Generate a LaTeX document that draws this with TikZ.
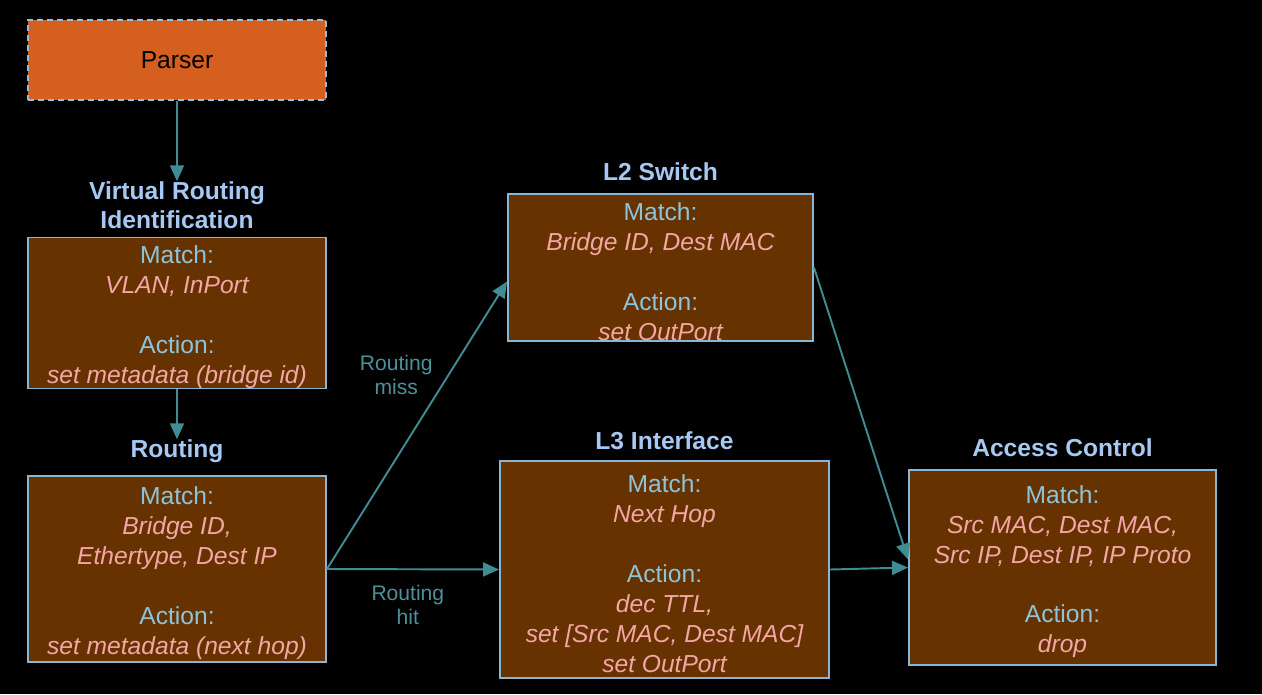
\documentclass[tikz,border=0pt]{standalone}
\usepackage{fontspec}
\setmainfont{Liberation Sans}
\usepackage{xcolor}
\usetikzlibrary{positioning, arrows.meta}

\definecolor{parserfill}{HTML}{D45F1F}
\definecolor{tablefill}{HTML}{663300}
\definecolor{tableedge}{HTML}{8AB6D6}
\definecolor{titleblue}{HTML}{A6C8F2}
\definecolor{keyblue}{HTML}{8EC3DA}
\definecolor{valpink}{HTML}{F4A6A6}
\definecolor{flowteal}{HTML}{3F8C93}
\definecolor{labelteal}{HTML}{4C9199}

\newcommand{\kw}[1]{\textcolor{keyblue}{\rule{0pt}{15pt}#1}}
\newcommand{\vl}[1]{\textcolor{valpink}{\itshape #1}}

\begin{document}
\begin{tikzpicture}[
node distance=0.24cm,
table/.style={rectangle, draw=tableedge, line width=1.1pt, fill=tablefill, align=center, inner sep=0pt, font=\fontsize{14}{17}\selectfont},
title/.style={align=center, inner sep=0pt, text=titleblue, font=\fontsize{14}{16.5}\selectfont\bfseries},
flow/.style={-{Triangle[length=0.32cm,width=0.28cm]}, draw=flowteal, fill=flowteal, line width=1.1pt},
hint/.style={align=center, inner sep=0pt, text=labelteal, font=\fontsize{12}{13.6}\selectfont}
]

% Fondo
\fill[black] (0,0) rectangle (25.24,-13.88);
\useasboundingbox (0,0) rectangle (25.24,-13.88);

% Parser
\node[rectangle, draw=tableedge!90, dash pattern=on 3.4pt off 2.3pt, line width=1.1pt, fill=parserfill,
      minimum width=5.96cm, minimum height=1.6cm, font=\fontsize{14}{17}\selectfont] (parser) at (3.54,-1.2) {Parser};

% Tablas de la izquierda
\node[table, minimum width=5.96cm, minimum height=2.96cm] (vri) at (3.54,-6.26) {
\kw{Match:} \\ \vl{VLAN, InPort} \\ \mbox{} \\
\kw{Action:} \\ \vl{set metadata (bridge id)}
};
\node[title, above=0.15cm of vri] (vri_title) {Virtual Routing \\ Identification};

\node[table, minimum width=5.96cm, minimum height=3.72cm] (routing) at (3.54,-11.38) {
\kw{Match:} \\ \vl{Bridge ID,} \\ \vl{Ethertype, Dest IP} \\ \mbox{} \\
\kw{Action:} \\ \vl{set metadata (next hop)}
};
\node[title, above=of routing] (routing_title) {Routing};

% Tablas del centro
\node[table, minimum width=6.1cm, minimum height=2.94cm] (l2) at (13.21,-5.35) {
\kw{Match:} \\ \vl{Bridge ID, Dest MAC} \\ \mbox{} \\
\kw{Action:} \\ \vl{set OutPort}
};
\node[title, above=of l2] (l2_title) {L2 Switch};

\node[table, minimum width=6.58cm, minimum height=4.34cm] (l3) at (13.29,-11.39) {
\kw{Match:} \\ \vl{Next Hop} \\ \mbox{} \\
\kw{Action:} \\ \vl{dec TTL,} \\ \vl{set [Src MAC, Dest MAC]} \\ \vl{set OutPort}
};
\node[title, above=0.19cm of l3] (l3_title) {L3 Interface};

% Tabla de la derecha
\node[table, minimum width=6.14cm, minimum height=3.9cm] (acl) at (21.25,-11.35) {
\kw{Match:} \\ \vl{Src MAC, Dest MAC,} \\ \vl{Src IP, Dest IP, IP Proto} \\ \mbox{} \\
\kw{Action:} \\ \vl{drop}
};
\node[title, above=of acl] (acl_title) {Access Control};

% Flechas
\draw[flow] (parser) -- (vri_title);
\draw[flow] (vri) -- (routing_title);

\draw[flow] (routing.east) -- ([yshift=-0.28cm]l2.west)
  node[hint, pos=0.675, left=0.3cm] (miss) {Routing \\ miss};
\draw[flow] (routing.east) -- (l3.west)
  node[hint, pos=0.47, below=0.3cm] (hit) {Routing \\ hit};

\draw[flow] (l2.east) -- ([yshift=0.16cm]acl.west);
\draw[flow] (l3.east) -- (acl.west);

\end{tikzpicture}
\end{document}
